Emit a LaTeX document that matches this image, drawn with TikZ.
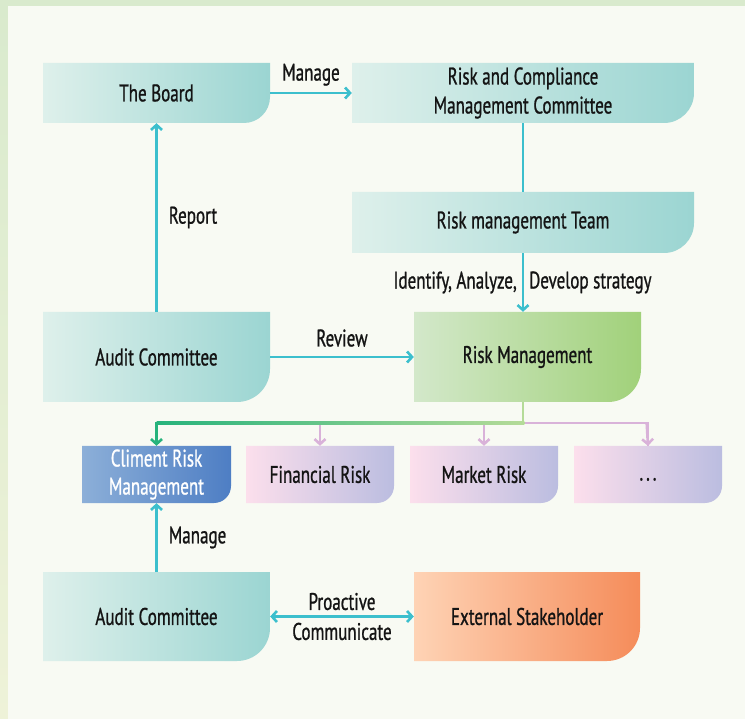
\documentclass[tikz,border=0pt]{standalone}
\usepackage{fontspec}
\setmainfont{PT Sans}[FakeStretch=0.71,FakeBold=0.9]
\usetikzlibrary{arrows.meta,calc}

\definecolor{frameA}{HTML}{D9EACD}
\definecolor{frameB}{HTML}{EEF2D8}
\definecolor{paper}{HTML}{F8FAF3}
\definecolor{tealL}{HTML}{DEF0EB}
\definecolor{tealR}{HTML}{9BD5D2}
\definecolor{greenL}{HTML}{D3E8CA}
\definecolor{greenR}{HTML}{A1D17A}
\definecolor{blueL}{HTML}{8CAFD8}
\definecolor{blueR}{HTML}{4E7EC4}
\definecolor{pinkL}{HTML}{FCDFEC}
\definecolor{pinkR}{HTML}{BBBDE0}
\definecolor{orangeL}{HTML}{FED3B5}
\definecolor{orangeR}{HTML}{F58C5A}
\definecolor{cyanline}{HTML}{3CBFCD}
\definecolor{pinkline}{HTML}{D9B2D9}
\definecolor{greenlineL}{HTML}{B5DB98}
\definecolor{greenlineD}{HTML}{27B37C}
\definecolor{ink}{HTML}{141414}

% box with a rounded bottom-right corner: name, x1, y1, x2, y2, radius, shading, text style, text
\newcommand\cornerbox[9]{%
  \shade[#7] (#2,#3) -- (#4,#3) -- (#4,#5-#6)
    arc[start angle=0,end angle=90,radius=#6] -- (#2,#5) -- cycle;
  \node[boxtext,#8,minimum width={(#4-#2)*1pt},minimum height={(#5-#3)*1pt}]
    (#1) at ({(#2+#4)/2},{(#3+#5)/2}) {#9};
}

\tikzset{
  boxtext/.style={inner sep=0pt,align=center,text=ink,font=\fontsize{24}{29}\selectfont},
  lbl/.style={inner sep=0pt,text=ink,font=\fontsize{24}{29}\selectfont},
  tealbox/.style={left color=tealL,right color=tealR},
  greenbox/.style={left color=greenL,right color=greenR},
  bluebox/.style={left color=blueL,right color=blueR},
  pinkbox/.style={left color=pinkL,right color=pinkR},
  orangebox/.style={left color=orangeL,right color=orangeR},
  tip/.style={-{Straight Barb[length=5pt,width=11pt]}},
  flow/.style={draw=cyanline,line width=2.6pt},
  pinkflow/.style={draw=pinkline,line width=2.6pt},
  greenflow/.style={draw=greenlineD,line width=2.6pt},
}

\begin{document}
\begin{tikzpicture}[x=1pt,y=-1pt]
\useasboundingbox (0,0) rectangle (745,719);
% page background
\shade[top color=frameA,bottom color=frameB] (0,0) rectangle (745,719);
\fill[paper] (8,6) rectangle (745,719);

% boxes
\cornerbox{board}{43}{63}{270}{123}{26}{tealbox}{}{The Board}
\cornerbox{rcmc}{352}{63}{694}{123}{30}{tealbox}{}{Risk and Compliance\\Management Committee}
\cornerbox{team}{352}{192}{694}{253}{30}{tealbox}{}{Risk management Team}
\cornerbox{audit}{43}{312}{270}{402}{33}{tealbox}{}{Audit Committee}
\cornerbox{rm}{414}{312}{641}{402}{33}{greenbox}{}{Risk Management}
\cornerbox{climent}{82}{446}{231}{503}{17}{bluebox}{text=white,font=\fontsize{24}{28}\selectfont}{Climent Risk\\Management}
\cornerbox{fin}{246}{446}{394}{503}{17}{pinkbox}{}{Financial Risk}
\cornerbox{market}{410}{446}{558}{503}{17}{pinkbox}{}{Market Risk}
\cornerbox{more}{574}{446}{722}{503}{17}{pinkbox}{}{\vphantom{Ag}.\kern3pt.\kern3pt.}
\cornerbox{audittwo}{43}{572}{270}{661}{33}{tealbox}{}{Audit Committee}
\cornerbox{ext}{414}{572}{640}{661}{33}{orangebox}{}{External Stakeholder}

% governance connectors
\draw[flow,tip] (board.east) -- (rcmc.west)
  node[lbl,midway,above=6pt] {Manage};
\draw[flow] (rcmc.south) -- (team.north);
\draw[flow,tip] (team.south) -- (team.south |- rm.north)
  coordinate[pos=0.5] (idmid);
\node[lbl,anchor=east] at ([xshift=-6pt]idmid) {Identify, Analyze,};
\node[lbl,anchor=west] at ([xshift=6pt]idmid) {Develop strategy};
\draw[flow,tip] (audit.north) -- (board.south)
  node[lbl,midway,right=11pt] {Report};
\draw[flow,tip] (audit.east) -- (rm.west)
  node[lbl,midway,above=9pt] {Review};

% branching to the risk categories
\coordinate (split) at ([yshift=-21pt]team.south |- rm.south);
\draw[pinkflow] (split) -| (more.north);
\draw[pinkflow,tip] (split -| fin.north) -- (fin.north);
\draw[pinkflow,tip] (split -| market.north) -- (market.north);
\draw[pinkflow,tip] ([xshift=-1.3pt]split -| more.north) -- (more.north);
\draw[greenflow,tip] (split) -| (climent.north);
\shade[left color=greenlineD,right color=greenlineL]
  ([yshift=1.3pt]split -| climent.north) rectangle ([yshift=-1.3pt,xshift=1.3pt]split);
\draw[draw=greenlineL,line width=2.6pt] (rm.south -| split) -- (split);

% lower connectors
\draw[flow,tip] (audittwo.north) -- (climent.south)
  node[lbl,midway,right=11pt] {Manage};
\draw[flow,{Straight Barb[length=5pt,width=11pt]}-{Straight Barb[length=5pt,width=11pt]}]
  (audittwo.east) -- (ext.west)
  node[lbl,midway,above=5pt] {Proactive}
  node[lbl,midway,below=5pt] {Communicate};
\end{tikzpicture}
\end{document}
